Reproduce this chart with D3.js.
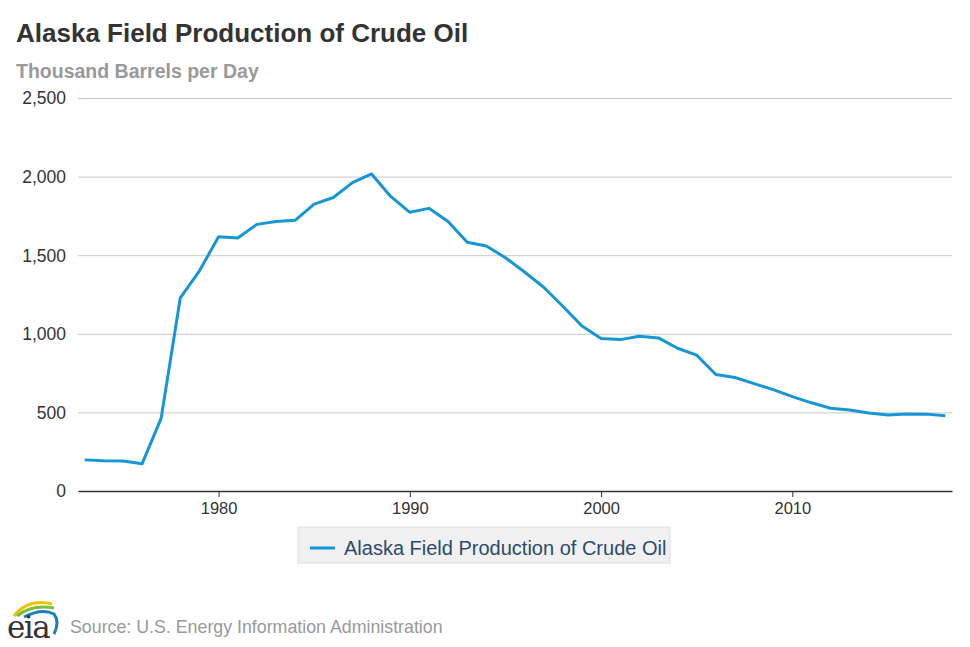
<!DOCTYPE html>
<html>
<head>
<meta charset="utf-8">
<script src="https://cdn.jsdelivr.net/npm/d3@7"></script>
<style>
  body { margin: 0; background: #fff; }
  svg, svg text { font-family: "Liberation Sans", Arial, sans-serif; }
</style>
</head>
<body>
<svg id="chart" width="970" height="647"></svg>
<script>
// Alaska field production of crude oil, thousand barrels per day
var years = d3.range(1973, 2019);
var production = [
    198, 193, 191, 173, 464, 1229, 1401, 1617, 1609, 1696,
    1714, 1722, 1825, 1867, 1962, 2017, 1874, 1773, 1798, 1714,
    1582, 1559, 1484, 1393, 1296, 1175, 1050, 970, 963, 984,
    974, 908, 864, 741, 722, 683, 645, 600, 561, 526,
    515, 496, 483, 490, 489, 479
];
var yTicks = [0, 500, 1000, 1500, 2000, 2500];
var xTicks = [1980, 1990, 2000, 2010];
var seriesName = "Alaska Field Production of Crude Oil";

(function () {

    var svg = d3.select('#chart'),
        left = 78, right = 952, plotTop = 98, bottom = 491,
        blue = "#1796d6";

    var x = d3.scaleLinear().domain([1972.65, 2018.35]).range([left, right]);
    var y = d3.scaleLinear().domain([0, 2500]).range([bottom, plotTop]);

    svg.append('text')
        .attr('x', 16).attr('y', 42)
        .style('font-size', '26px').style('font-weight', 'bold')
        .style('fill', '#333')
        .text(seriesName);

    svg.append('text')
        .attr('x', 16).attr('y', 78)
        .style('font-size', '19.5px').style('font-weight', 'bold')
        .style('fill', '#999')
        .text('Thousand Barrels per Day');

    // gridlines + y labels
    var gy = svg.append('g')
        .attr('transform', 'translate(' + left + ',0)')
        .call(d3.axisLeft(y).tickValues(yTicks).tickSize(-(right - left)).tickPadding(12)
            .tickFormat(d3.format(',')));
    gy.select('.domain').remove();
    gy.selectAll('.tick line').style('stroke', '#c8c8c8').style('stroke-width', 1);
    gy.selectAll('.tick text').style('font-size', '17.5px').style('fill', '#333').attr('dy', '0.34em');
    gy.selectAll('.tick').filter(function (d) { return d === 0; }).select('line').remove();

    // x axis
    var gx = svg.append('g')
        .attr('transform', 'translate(0,' + bottom + ')')
        .call(d3.axisBottom(x).tickValues(xTicks).tickSize(6).tickSizeOuter(0).tickPadding(5)
            .tickFormat(d3.format('d')));
    gx.select('.domain').style('stroke', '#333').style('stroke-width', 1.5);
    gx.selectAll('.tick line').style('stroke', '#333');
    gx.selectAll('.tick text').style('font-size', '16.5px').style('fill', '#333');

    // series line
    var line = d3.line()
        .x(function (d, i) { return x(years[i]); })
        .y(function (d) { return y(d); });

    svg.append('path')
        .datum(production)
        .attr('d', line)
        .style('fill', 'none')
        .style('stroke', blue)
        .style('stroke-width', 3)
        .style('stroke-linejoin', 'round');

    // legend
    var lg = svg.append('g').attr('transform', 'translate(298,527)');
    lg.append('rect')
        .attr('width', 372).attr('height', 36)
        .style('fill', '#f0f0f0').style('stroke', '#e0e0e0');
    lg.append('line')
        .attr('x1', 12).attr('x2', 37).attr('y1', 21).attr('y2', 21)
        .style('stroke', blue).style('stroke-width', 3);
    lg.append('text')
        .attr('x', 46).attr('y', 28)
        .style('font-size', '20px').style('fill', '#2b4b6b')
        .text(seriesName);

    // eia logo
    var logo = svg.append('g').attr('transform', 'translate(8,602)');
    logo.append('path').attr('d', 'M6,14 Q20,-4 44,2').style('fill', 'none').style('stroke', '#f2c200').style('stroke-width', 3);
    logo.append('path').attr('d', 'M9,14 Q24,2 46,6').style('fill', 'none').style('stroke', '#7bbf3a').style('stroke-width', 3);
    logo.append('path').attr('d', 'M16,15 Q34,6 46,12 Q52,20 46,32').style('fill', 'none').style('stroke', '#1a7fc1').style('stroke-width', 3);
    logo.append('text')
        .attr('x', -1).attr('y', 36)
        .style('font-family', '"DejaVu Serif", "Liberation Serif", serif')
        .style('font-size', '31px').style('fill', '#333')
        .style('letter-spacing', '-1.5px')
        .text('eia');

    svg.append('text')
        .attr('x', 70).attr('y', 633)
        .style('font-size', '17.8px').style('fill', '#999')
        .text('Source: U.S. Energy Information Administration');
}());
</script>
</body>
</html>
